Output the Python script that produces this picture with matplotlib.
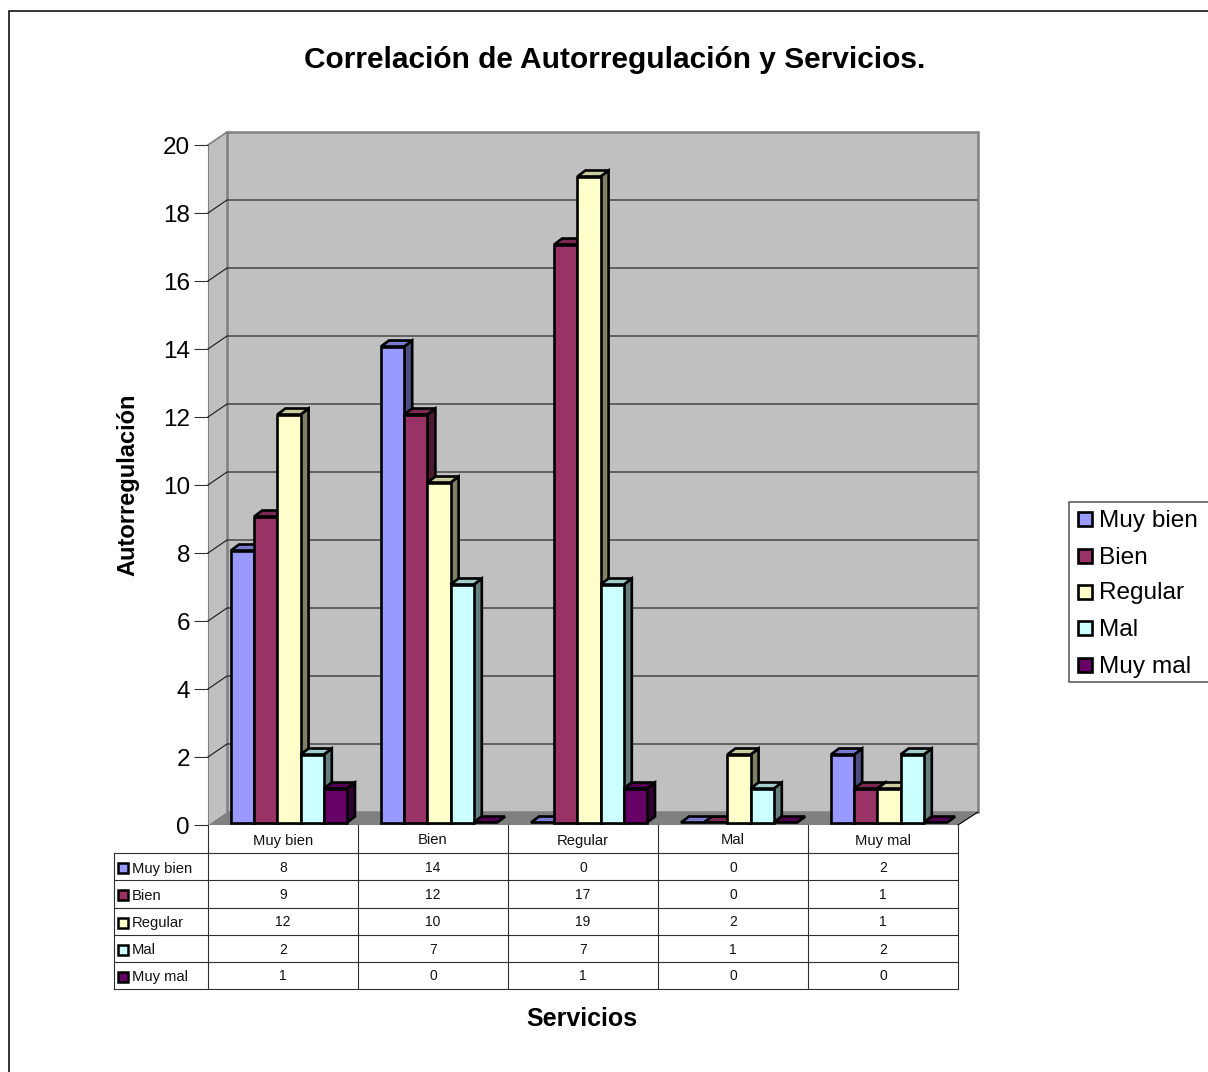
import matplotlib
matplotlib.use('Agg')
import matplotlib.pyplot as plt
from matplotlib.patches import Polygon, Rectangle

plt.rcParams['font.family'] = ['Liberation Sans', 'DejaVu Sans']

categories = ['Muy bien', 'Bien', 'Regular', 'Mal', 'Muy mal']
series_names = ['Muy bien', 'Bien', 'Regular', 'Mal', 'Muy mal']
muy_bien = [8, 14, 0, 0, 2]
bien = [9, 12, 17, 0, 1]
regular = [12, 10, 19, 2, 1]
mal = [2, 7, 7, 1, 2]
muy_mal = [1, 0, 1, 0, 0]
series_values = [muy_bien, bien, regular, mal, muy_mal]

front_colors = ['#9999FF', '#993366', '#FFFFCC', '#CCFFFF', '#660066']
top_colors = ['#7A7ACC', '#7A2952', '#CCCCA3', '#A3CCCC', '#520052']
side_colors = ['#4D4D80', '#4D1A33', '#808066', '#668080', '#330033']

W, H = 1208, 1072
L, R, T, B = 208, 958, 145, 825   # front plane of the plot, in pixels
DX, DY = 19, 13                   # depth of the 3d box

fig = plt.figure(figsize=(W / 100, H / 100), dpi=100, facecolor='white')

# pixel layer for the frame, walls, table and legend
bg = fig.add_axes([0, 0, 1, 1])
bg.set_xlim(0, W)
bg.set_ylim(H, 0)
bg.axis('off')

bg.add_patch(Rectangle((8.5, 10.5), W, H, fc='white', ec='black', lw=1.1))

# walls and floor
bg.add_patch(Polygon([(L, T), (L + DX, T - DY), (L + DX, B - DY), (L, B)], fc='#C0C0C0', ec='none'))
bg.add_patch(Rectangle((L + DX, T - DY), R - L + 1, B - T, fc='#C0C0C0', ec='#808080', lw=1.8))
bg.add_patch(Polygon([(L, B), (L + DX, B - DY), (R + DX + 1, B - DY), (R, B)], fc='#808080', ec='none'))
bg.plot([L, L + DX], [T, T - DY], color='#808080', lw=1.2)
bg.plot([L, L], [T, B], color='#808080', lw=0.8)
bg.plot([R, R + DX + 1], [B, B - DY], color='black', lw=0.8)

# gridlines across the back wall and down the side wall
for v in range(2, 20, 2):
    y = B - (B - T) * v / 20
    bg.plot([L, L + DX, R + DX], [y, y - DY, y - DY], color='#1a1a1a', lw=0.8)

# data table
rows = [825, 853, 880, 908, 935, 962, 989]
cols = [208, 358, 508, 658, 808, 958]
for y in rows[1:]:
    bg.plot([114, 958], [y, y], color='#303030', lw=0.8)
for x in cols:
    bg.plot([x, x], [825, 989], color='#303030', lw=0.8)
bg.plot([114, 114], [853, 989], color='#303030', lw=0.8)

for i, cat in enumerate(categories):
    cx = (cols[i] + cols[i + 1]) / 2
    bg.text(cx, 840.5, cat, ha='center', va='center', fontsize=10.6, color='#111111')
    for j, vals in enumerate(series_values):
        bg.text(cx, (rows[j + 1] + rows[j + 2]) / 2 + 1, str(vals[i]), ha='center', va='center',
                fontsize=10, color='#111111')

for j, name in enumerate(series_names):
    yc = (rows[j + 1] + rows[j + 2]) / 2 + 1
    bg.add_patch(Rectangle((118, yc - 5), 10, 10, fc=front_colors[j], ec='black', lw=1.8))
    bg.text(132, yc + 1, name, ha='left', va='center', fontsize=10.6, color='#111111')

# legend box
bg.add_patch(Rectangle((1068.5, 501.5), 145, 180, fc='white', ec='#606060', lw=1.2))
legend_y = [519, 556, 592, 628, 665]
for j, name in enumerate(series_names):
    bg.add_patch(Rectangle((1077.5, legend_y[j] - 7), 14, 14, fc=front_colors[j], ec='black', lw=1.9))
    bg.text(1099, legend_y[j] + 1.5, name, ha='left', va='center', fontsize=17.6, color='black')

# titles
bg.text(615, 60, 'Correlación de Autorregulación y Servicios.', ha='center', va='center',
        fontsize=21.5, fontweight='bold', color='black')
bg.text(582, 1019, 'Servicios', ha='center', va='center', fontsize=18, fontweight='bold', color='black')

# value axes aligned on the front plane, the bars are drawn on it
ax = fig.add_axes([L / W, 1 - B / H, (R - L) / W, (B - T) / H])
ax.patch.set_alpha(0)
ax.set_xlim(0, len(categories))
ax.set_ylim(0, 20)
for s in ax.spines.values():
    s.set_visible(False)
ax.set_xticks([])
ax.set_yticks(range(0, 21, 2))
ax.tick_params(axis='y', length=10, width=0.8, color='#303030', labelsize=17.5, pad=3)
ax.set_ylabel('Autorregulación', fontsize=17, fontweight='bold', labelpad=0)
ax.yaxis.set_label_coords((139.5 - L) / (R - L), 0.5)

px_x = len(categories) / (R - L)
px_y = 20 / (B - T)
bar_w = 23.2 * px_x
gap = 23 * px_x
depth_x = 8 * px_x
depth_y = 6 * px_y
lift = 2.5 * px_y     # bars stand slightly behind the front edge of the floor

for i in range(len(categories)):
    for j, vals in enumerate(series_values):
        x0 = i + gap + j * bar_w
        x1 = x0 + bar_w
        y0 = lift
        y1 = lift + vals[i]
        opts = dict(ec='black', lw=1.9, clip_on=False, joinstyle='miter')
        ax.add_patch(Polygon([(x1, y0), (x1 + depth_x, y0 + depth_y), (x1 + depth_x, y1 + depth_y), (x1, y1)],
                             fc=side_colors[j], **opts))
        ax.add_patch(Polygon([(x0, y1), (x0 + depth_x, y1 + depth_y), (x1 + depth_x, y1 + depth_y), (x1, y1)],
                             fc=top_colors[j], **opts))
        if vals[i] > 0:
            ax.add_patch(Rectangle((x0, y0), bar_w, vals[i], fc=front_colors[j], **opts))

fig.savefig('out.png', dpi=100)
